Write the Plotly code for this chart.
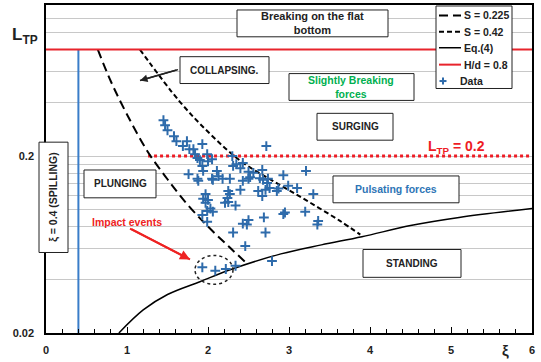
import math
import plotly.graph_objects as go

# ---------------- data ----------------
# wave-breaking boundary S = 0.225 (left dashed line)
s225_xi = [0.64, 0.80, 1.00, 1.25, 1.50, 1.75, 2.00, 2.25, 2.49]
s225_L = [0.80, 0.53, 0.344, 0.214, 0.148, 0.106, 0.080, 0.062, 0.049]
# boundary S = 0.42 (right dashed line)
s042_xi = [1.16, 1.65, 2.03, 2.40, 2.80, 3.22, 3.63, 3.88]
s042_L = [0.80, 0.407, 0.266, 0.188, 0.145, 0.112, 0.086, 0.072]
# Eq.(4)
eq4_xi = [0.90, 1.20, 1.50, 1.90, 2.30, 2.90, 3.40, 3.90, 4.50, 5.10, 6.00]
eq4_L = [0.020, 0.027, 0.033, 0.039, 0.046, 0.056, 0.063, 0.070, 0.081, 0.090, 0.101]
# H/d = 0.8 limit
hd_xi = [0.0, 6.0]
hd_L = [0.8, 0.8]
# spilling limit xi = 0.4
spill_xi = [0.4, 0.4]
spill_L = [0.02, 0.8]
# L_TP = 0.2 limit
ltp_xi = [1.26, 6.0]
ltp_L = [0.2, 0.2]
# measured data
data_xi = [1.45, 1.47, 1.50, 1.58, 1.61, 1.69, 1.74, 1.77, 1.82, 1.84, 1.93, 1.87, 1.90, 1.93,
           1.94, 2.00, 2.05, 1.99, 1.76, 1.87, 1.88, 2.05, 2.11, 2.13, 2.18, 2.27, 2.31, 2.35,
           2.40, 2.43, 2.43, 2.25, 2.27, 2.40, 1.97, 2.30, 2.50, 2.52, 2.56, 2.67, 2.64, 2.68,
           2.73, 2.74, 2.62, 2.71, 2.76, 2.85, 2.87, 2.93, 2.99, 3.10, 3.21, 3.30, 2.72, 2.67,
           1.94, 1.97, 2.00, 2.03, 1.99, 2.06, 1.93, 1.99, 2.24, 2.25, 2.21, 2.34, 2.43, 2.31,
           2.46, 2.50, 2.48, 2.69, 2.71, 2.95, 2.93, 3.20, 3.36, 3.35, 2.79, 1.93, 2.09, 2.22,
           2.34, 2.06, 2.50]
data_L = [0.319, 0.299, 0.280, 0.259, 0.243, 0.228, 0.243, 0.219, 0.219, 0.205, 0.234, 0.195,
          0.190, 0.176, 0.165, 0.187, 0.192, 0.205, 0.158, 0.149, 0.145, 0.149, 0.165, 0.154,
          0.149, 0.149, 0.176, 0.180, 0.171, 0.183, 0.145, 0.127, 0.122, 0.129, 0.122, 0.200,
          0.163, 0.152, 0.161, 0.167, 0.150, 0.147, 0.141, 0.149, 0.127, 0.129, 0.132, 0.127,
          0.131, 0.156, 0.136, 0.132, 0.165, 0.122, 0.228, 0.119, 0.115, 0.109, 0.113, 0.101,
          0.098, 0.097, 0.093, 0.085, 0.116, 0.110, 0.109, 0.105, 0.083, 0.074, 0.062, 0.087,
          0.082, 0.090, 0.074, 0.096, 0.094, 0.097, 0.086, 0.082, 0.051, 0.047, 0.045, 0.046,
          0.048, 0.147, 0.149]

x_ticks = [0, 1, 2, 3, 4, 5, 6]
y_ticks = [0.02, 0.2]
y_ticktext = ["0.02", "0.2"]
y_grid = [0.04, 0.06, 0.08, 0.10, 0.12, 0.14, 0.16, 0.18, 0.4, 0.6, 0.8, 1.0, 1.2]

legend_names = ["S = 0.225", "S = 0.42", "Eq.(4)", "H/d = 0.8", "Data"]

# ---------------- layout helpers (pixel -> paper) ----------------
W, H = 541, 362
PL, PR, PT, PB = 46, 532, 3, 333


def fx(x):
    return (x - PL) / (PR - PL)


def fy(y):
    return (PB - y) / (PB - PT)


FONT = "Arial, Liberation Sans, sans-serif"
BLUE = "#2e6bab"
RED = "#e8242c"

styles = {
    "S = 0.225": dict(color="black", width=2, dash="9px,5px"),
    "S = 0.42": dict(color="black", width=2, dash="5px,3px"),
    "Eq.(4)": dict(color="black", width=1.5),
    "H/d = 0.8": dict(color=RED, width=2),
}

fig = go.Figure()
fig.add_trace(go.Scatter(x=spill_xi, y=spill_L, mode="lines", showlegend=False,
                         line=dict(color="#3a7dc9", width=2), hoverinfo="skip"))
fig.add_trace(go.Scatter(x=ltp_xi, y=ltp_L, mode="lines", showlegend=False,
                         line=dict(color="#ee1c25", width=3, dash="dot"), hoverinfo="skip"))
fig.add_trace(go.Scatter(x=s225_xi, y=s225_L, mode="lines", name="S = 0.225", showlegend=False,
                         line=dict(**styles["S = 0.225"], shape="spline")))
fig.add_trace(go.Scatter(x=s042_xi, y=s042_L, mode="lines", name="S = 0.42", showlegend=False,
                         line=dict(**styles["S = 0.42"], shape="spline")))
fig.add_trace(go.Scatter(x=eq4_xi, y=eq4_L, mode="lines", name="Eq.(4)", showlegend=False,
                         line=dict(**styles["Eq.(4)"], shape="spline")))
fig.add_trace(go.Scatter(x=hd_xi, y=hd_L, mode="lines", name="H/d = 0.8", showlegend=False,
                         line=styles["H/d = 0.8"]))
fig.add_trace(go.Scatter(x=data_xi, y=data_L, mode="markers", name="Data", showlegend=False,
                         marker=dict(symbol="cross-thin", size=7,
                                     line=dict(color=BLUE, width=2), color=BLUE)))

shapes = []
annots = []


def box(x0, y0, x1, y1):
    shapes.append(dict(type="rect", xref="paper", yref="paper", x0=fx(x0), x1=fx(x1),
                       y0=fy(y1), y1=fy(y0), line=dict(color="#222", width=1),
                       fillcolor="white", layer="above"))


def text(x, y, t, size=10, color="#222", angle=0, anchor="center"):
    annots.append(dict(xref="paper", yref="paper", x=fx(x), y=fy(y), text=t, showarrow=False,
                       xanchor=anchor, yanchor="middle", textangle=angle,
                       font=dict(family=FONT, size=size, color=color, weight="bold")))


def seg(x0, y0, x1, y1, line):
    shapes.append(dict(type="line", xref="paper", yref="paper", x0=fx(x0), x1=fx(x1),
                       y0=fy(y0), y1=fy(y1), line=line, layer="above"))


def arrow(hx, hy, tx, ty, color, width):
    shapes.append(dict(type="line", xref="paper", yref="paper", x0=fx(tx), y0=fy(ty),
                       x1=fx(hx), y1=fy(hy), line=dict(color=color, width=width),
                       layer="above"))
    annots.append(dict(xref="paper", yref="paper", x=fx(hx), y=fy(hy), ax=tx - hx, ay=ty - hy,
                       axref="pixel", ayref="pixel", text=" ", showarrow=True, arrowhead=2,
                       arrowsize=1, arrowwidth=width, arrowcolor=color,
                       font=dict(size=1)))


box(237, 8, 388, 35)
text(312, 21.5, "Breaking on the flat<br>bottom", 11)
box(180, 55, 269, 82)
text(224.5, 68.5, "COLLAPSING.", 10)
box(289, 72, 414, 99)
text(351, 85.5, "Slightly Breaking<br>forces", 10.5, "#00b050")
box(317, 112, 393, 139)
text(355, 125.5, "SURGING", 10)
box(333, 175, 459, 202)
text(396, 188.5, "Pulsating forces", 10.5, "#2e75b6")
box(84, 169, 156, 197)
text(120, 183, "PLUNGING", 10)
box(39, 141, 68, 252)
text(53.5, 196.5, "ξ = 0.4 (SPILLING)", 10.5, angle=-90)
box(363, 249, 461, 277)
text(412, 263, "STANDING", 10)
text(127, 221, "Impact events", 10.5, "#ee2222")
text(456, 146, "L<sub>TP</sub> = 0.2", 14, "#ee1c25")
text(25, 34, "L<sub>TP</sub>", 17, "#222")
text(505, 351, "ξ", 15, "#222")

shapes.append(dict(type="circle", xref="paper", yref="paper", x0=fx(195), x1=fx(233),
                   y0=fy(284), y1=fy(255), line=dict(color="#222", width=1.5, dash="dot"),
                   layer="above"))

# arrows
arrow(140, 79, 178, 68, "#222", 1.5)
arrow(190, 259, 130, 228, "#ee2222", 2)

# legend box (drawn to match the reference's compact layout)
box(436, 4, 512, 87)
leg_y = [13.5, 30, 46, 63, 79.5]
for name, yy in zip(legend_names, leg_y):
    if name in styles:
        seg(439, yy, 461, yy, styles[name])
    else:
        seg(439.5, yy, 446.5, yy, dict(color=BLUE, width=2))
        seg(443, yy - 3.5, 443, yy + 3.5, dict(color=BLUE, width=2))
    text(462 if name != "Data" else 458, yy, name, 10.5, anchor="left")

fig.update_layout(
    width=W, height=H,
    margin=dict(l=PL, r=W - PR, t=PT, b=H - PB, pad=0),
    paper_bgcolor="white", plot_bgcolor="white",
    font=dict(family=FONT, size=11, color="#222"),
    shapes=shapes, annotations=annots,
    showlegend=False,
    xaxis=dict(range=[0, 6], tickvals=x_ticks, ticks="inside", ticklen=6, tickcolor="black",
               minor=dict(dtick=0.2, ticks="inside", ticklen=4, tickcolor="black", showgrid=False),
               showgrid=False, zeroline=False, showline=True, linecolor="black", linewidth=1.5,
               mirror=True, ticklabelstandoff=6,
               tickfont=dict(family=FONT, size=11, color="#222", weight="bold")),
    yaxis=dict(type="log", range=[math.log10(0.02), math.log10(1.43)], tickvals=y_ticks,
               ticktext=y_ticktext, ticks="", showgrid=True, gridcolor="#c8c8c8", gridwidth=1,
               minor=dict(tickvals=y_grid, ticks="", showgrid=True, gridcolor="#c8c8c8",
                          gridwidth=1),
               zeroline=False, showline=True, linecolor="black", linewidth=1.5, mirror=True,
               ticklabelstandoff=8,
               tickfont=dict(family=FONT, size=11, color="#222", weight="bold")),
)

fig.write_html("out.html")
